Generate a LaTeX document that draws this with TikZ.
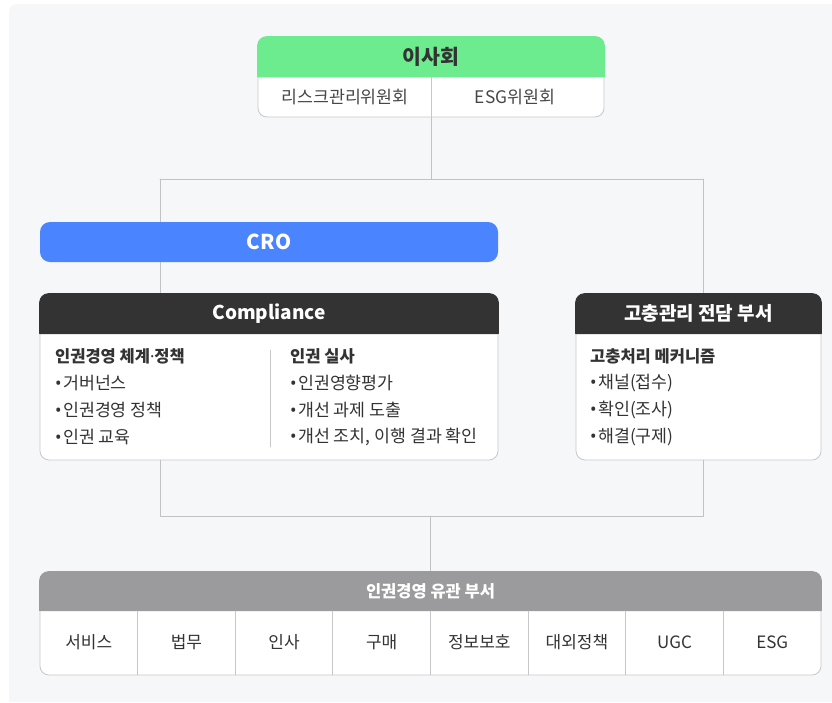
\documentclass[tikz,border=0pt]{standalone}
\usepackage{fontspec}
\setmainfont{Noto Sans CJK KR}
\newfontfamily\dotfont{Noto Sans}
\newcommand{\blt}{{\dotfont •}\hspace{1.5pt}}
\newcommand{\mdot}{{\dotfont ·}}
\definecolor{bgc}{HTML}{F6F7F9}
\definecolor{brd}{HTML}{C8C8CA}
\definecolor{lnc}{HTML}{C2C2C4}
\definecolor{grn}{HTML}{6DEB8F}
\definecolor{blu}{HTML}{4A84FF}
\definecolor{drk}{HTML}{333333}
\definecolor{gry}{HTML}{9B9B9D}
\definecolor{txt}{HTML}{333333}
\begin{document}
\begin{tikzpicture}[x=1pt, y=-1pt, line join=round, line cap=round,
	box/.style={draw=brd, line width=0.8pt, fill=white, rounded corners=9pt, inner sep=0pt},
	conn/.style={draw=lnc, line width=1pt},
	hd/.style={font=\fontsize{19}{21}\selectfont\bfseries, text=white, inner sep=0pt},
	ttl/.style={anchor=west, inner sep=0pt, font=\fontsize{16.5}{18}\selectfont\bfseries, text=txt},
	item/.style={anchor=west, inner sep=0pt, font=\fontsize{17.3}{19}\selectfont, text=txt},
	cell/.style={inner sep=0pt, font=\fontsize{17}{19}\selectfont, text=txt}]
	% 배경
	\fill[white] (0,0) rectangle (832,702);
	\fill[bgc] (9,702) [rounded corners=8pt] -- (9,4) [sharp corners] -- (832,4) -- (832,702) -- cycle;
	\useasboundingbox (0,0) rectangle (832,702);
	
	% 연결점
	\coordinate (jl) at (160,179);
	\coordinate (jr) at (703,179);
	\coordinate (bl) at (160,516);
	\coordinate (br) at (703,516);
	
	% 상자들
	\node[box, minimum width=346pt, minimum height=80pt] (board) at (431,77) {};
	\node[box, minimum width=458pt, minimum height=166pt] (comp) at (269,377) {};
	\node[box, minimum width=245pt, minimum height=166pt] (grv) at (698.5,377) {};
	\node[box, minimum width=781pt, minimum height=103pt] (dept) at (430.5,623.5) {};
	
	% 연결선 (CRO 뒤로 지나감)
	\draw[conn] (board.south) -- (board.south |- jl);
	\draw[conn] (jl) -- (jr);
	\draw[conn] (jl) -- (jl |- comp.north);
	\draw[conn] (jr) -- (jr |- grv.north);
	\draw[conn] (jl |- comp.south) -- (bl) -- (br) -- (br |- grv.south);
	\draw[conn] (bl -| dept.north) -- (dept.north);
	
	% CRO
	\node[fill=blu, rounded corners=10pt, minimum width=458pt, minimum height=40pt, hd, font=\fontsize{20.5}{22}\selectfont\bfseries] (cro) at (269,242) {CRO};
	
	% 이사회
	\filldraw[grn, line width=0.8pt] (board.west) [rounded corners=9pt] -- (board.north west) -- (board.north east) [sharp corners] -- (board.east) -- cycle;
	\node[hd, text=txt, font=\fontsize{20.5}{22}\selectfont\bfseries] (boardt) at ([yshift=-20pt]board.north) {이사회};
	\draw[brd, line width=0.8pt] (board.center) -- (board.south);
	\node[cell, text=txt!90, font=\fontsize{17.3}{19}\selectfont] (risk) at (345,97) {리스크관리위원회};
	\node[cell, text=txt!90, font=\fontsize{17.3}{19}\selectfont] (esgc) at (515,97) {ESG위원회};
	
	% Compliance
	\filldraw[drk, line width=0.8pt] ([yshift=-40pt]comp.north west) [rounded corners=9pt] -- (comp.north west) -- (comp.north east) [sharp corners] -- ([yshift=-40pt]comp.north east) -- cycle;
	\node[hd] (compt) at ([yshift=-20pt]comp.north) {Compliance};
	\draw[brd, line width=0.8pt] (270,350) -- (270,447);
	\node[ttl] (cla) at (55,356) {인권경영 체계\mdot 정책};
	\foreach \t [count=\i from 0] in {거버넌스, 인권경영 정책, 인권 교육}
		\node[item] (cl\i) at (55,{383+27*\i}) {\blt\t};
	\node[ttl] (cra) at (290,356) {인권 실사};
	\foreach \t [count=\i from 0] in {인권영향평가, 개선 과제 도출, {개선 조치, 이행 결과 확인}}
		\node[item] (cr\i) at (290,{383+27*\i}) {\blt\t};
	
	% 고충관리 전담 부서
	\filldraw[drk, line width=0.8pt] ([yshift=-40pt]grv.north west) [rounded corners=9pt] -- (grv.north west) -- (grv.north east) [sharp corners] -- ([yshift=-40pt]grv.north east) -- cycle;
	\node[hd] (grvt) at ([yshift=-20pt]grv.north) {고충관리 전담 부서};
	\node[ttl] (ga) at (590,356) {고충처리 메커니즘};
	\foreach \t [count=\i from 0] in {채널(접수), 확인(조사), 해결(구제)}
		\node[item] (g\i) at (590,{383+27*\i}) {\blt\t};
	
	% 인권경영 유관 부서
	\filldraw[gry, line width=0.8pt] ([yshift=-39pt]dept.north west) [rounded corners=9pt] -- (dept.north west) -- (dept.north east) [sharp corners] -- ([yshift=-39pt]dept.north east) -- cycle;
	\node[hd, font=\fontsize{16.5}{18}\selectfont\bfseries] (deptt) at ([yshift=-19.5pt]dept.north) {인권경영 유관 부서};
	\foreach \i in {1,...,7}
		\draw[brd, line width=0.8pt] ({40+97.625*\i},611) -- ({40+97.625*\i},675);
	\foreach \t [count=\i] in {서비스, 법무, 인사, 구매, 정보보호, 대외정책, UGC, ESG}
		\node[cell] (d\i) at ({40+97.625*(\i-0.5)},642) {\t};
\end{tikzpicture}
\end{document}
